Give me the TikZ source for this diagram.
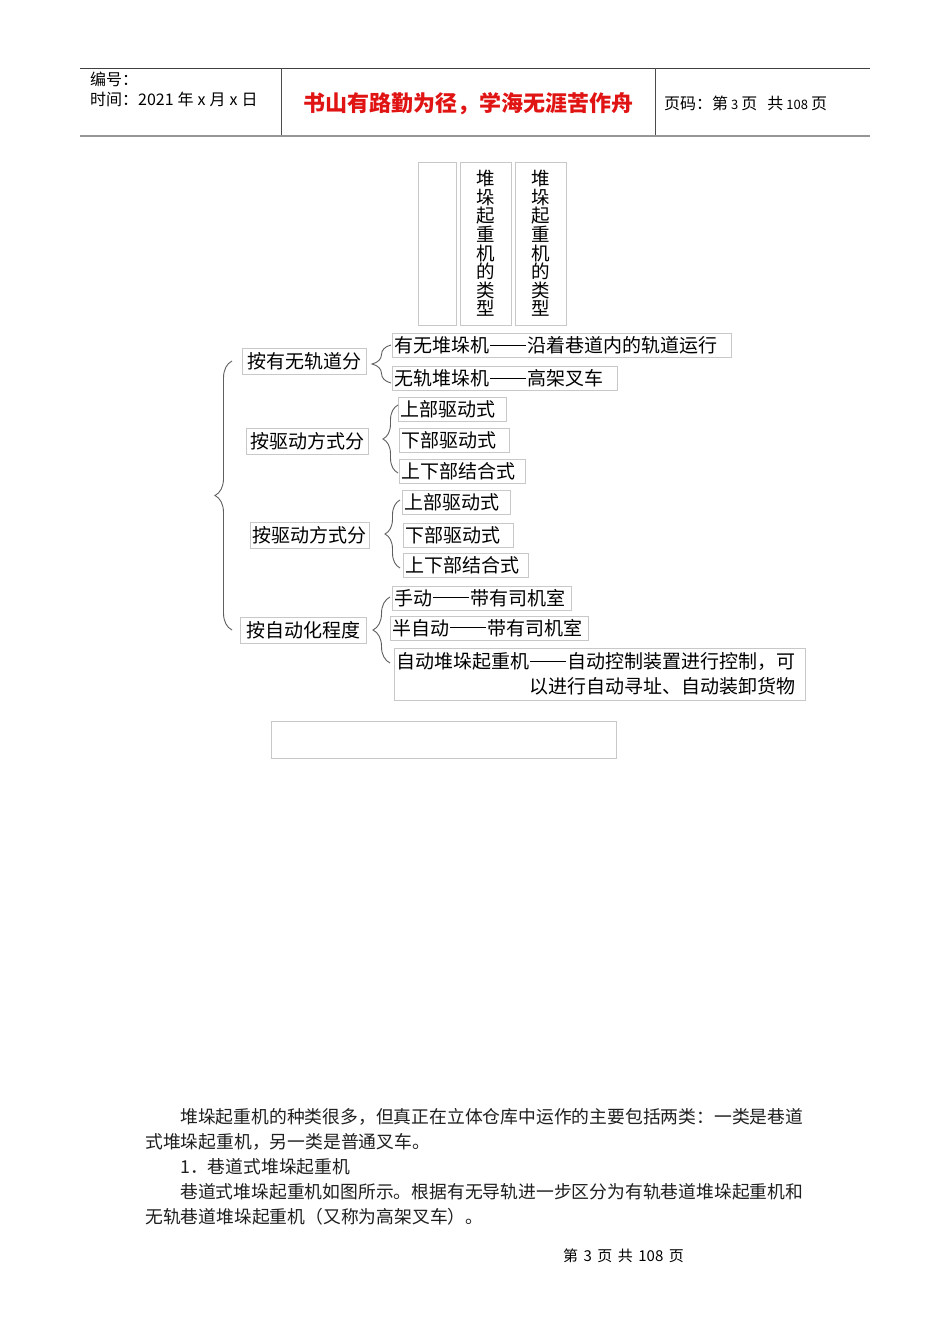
\documentclass[tikz,border=0pt]{standalone}
\usepackage{fontspec}
\setmainfont{Noto Sans CJK SC}
\usepackage{xcolor}
\usepackage{tikz}
\usetikzlibrary{positioning, decorations.pathreplacing}
\definecolor{boxgray}{RGB}{200,200,200}
\definecolor{bracegray}{RGB}{95,95,95}
\definecolor{titlered}{RGB}{225,20,20}
\definecolor{rulegray}{RGB}{150,150,150}
\newcommand{\setfs}[1]{\fontsize{#1}{#1}\selectfont}
\newcommand{\dashpair}{\hspace{0.05em}\rule[0.36em]{1.9em}{0.065em}\hspace{0.05em}}

\begin{document}
\begin{tikzpicture}[x=1pt, y=-1pt,
    catbox/.style={draw=boxgray, line width=0.8pt, inner xsep=2pt, inner ysep=0pt, minimum height=26pt, text width=#1, align=center, anchor=west, font=\setfs{19}},
    itembox/.style={draw=boxgray, line width=0.8pt, inner xsep=2pt, inner ysep=0pt, minimum height=24pt, text width=#1, align=left, anchor=west, font=\setfs{19}},
    vbox/.style={draw=boxgray, line width=0.8pt, inner sep=0pt, minimum width=#1, minimum height=163pt, align=center, font=\fontsize{18.5}{18.6}\selectfont},
    brc/.style={draw=bracegray, line width=0.9pt, decorate, decoration={brace, amplitude=#1}},
    bodyline/.style={anchor=west, inner sep=0pt, font=\setfs{17.8}, text=black!88}]
    % Page
    \fill[white] (0,0) rectangle (950,1344);
    \useasboundingbox (0,0) rectangle (950,1344);

    % Header
    \draw[black!75, line width=0.8pt] (80,68) -- (870,68);
    \draw[rulegray, line width=2pt] (80,135.5) -- (870,135.5);
    \draw[black!70, line width=0.8pt] (281,68) -- (281,135);
    \draw[black!70, line width=0.8pt] (655,68) -- (655,135);
    \node[anchor=west, inner sep=0pt, font=\setfs{16}] (serial) at (90,79) {编号：};
    \node[anchor=west, inner sep=0pt, font=\setfs{16}] (date) at (90,99)
        {时间：2021\hspace{4pt}年\hspace{4pt}x\hspace{4pt}月\hspace{4pt}x\hspace{4pt}日};
    \node[inner sep=0pt, font=\setfs{22}\bfseries, text=titlered] (motto) at (468.5,104) {书山有路勤为径，学海无涯苦作舟};
    \node[anchor=west, inner sep=0pt, font=\setfs{16}] (pageno) at (664,103)
        {页码：第\hspace{3pt}{\setfs{13}3}\hspace{3pt}页\hspace{10pt}共\hspace{3pt}{\setfs{13}108}\hspace{3pt}页};

    % Vertical title boxes
    \node[vbox=38pt] (blank) at (437,243.5) {};
    \node[vbox=51pt] (titleA) at (485.5,243.5) {堆\\垛\\起\\重\\机\\的\\类\\型};
    \node[vbox=51pt] (titleB) at (540.5,243.5) {堆\\垛\\起\\重\\机\\的\\类\\型};

    % First level
    \node[catbox=120pt] (rail) at (242,361) {按有无轨道分};
    \node[catbox=118pt] (driveA) at (246,441.5) {按驱动方式分};
    \node[catbox=115pt] (driveB) at (250,535) {按驱动方式分};
    \node[catbox=122pt] (auto) at (240,630.5) {按自动化程度};

    % Second level
    \node[itembox=335pt] (railed) at (392,345.5) {有无堆垛机\dashpair{}沿着巷道内的轨道运行};
    \node[itembox=221pt] (trackless) at (392,378.5) {无轨堆垛机\dashpair{}高架叉车};

    \node[itembox=104pt] (topA) at (398,409) {上部驱动式};
    \node[itembox=106pt] (bottomA) at (399,440) {下部驱动式};
    \node[itembox=122pt] (bothA) at (399,471.5) {上下部结合式};

    \node[itembox=104pt] (topB) at (402,502) {上部驱动式};
    \node[itembox=106pt] (bottomB) at (403,535) {下部驱动式};
    \node[itembox=121pt] (bothB) at (403,565.5) {上下部结合式};

    \node[itembox=175pt] (manual) at (392,598) {手动\dashpair{}带有司机室};
    \node[itembox=194pt] (semi) at (390,628) {半自动\dashpair{}带有司机室};
    \node[itembox=407pt, minimum height=52pt, font=\fontsize{19}{25}\selectfont] (full) at (394,674)
        {自动堆垛起重机\dashpair{}自动控制装置进行控制，可\\ \hspace*{\fill}以进行自动寻址、自动装卸货物\rule{8pt}{0pt}};

    % Empty box under the tree
    \node[draw=boxgray, line width=0.8pt, minimum width=345pt, minimum height=37pt] (empty) at (443.5,739.5) {};

    % Braces
    \coordinate (mainTop) at (232,361);
    \coordinate (mainBot) at (232,630);
    \coordinate (railTop) at (391,345);
    \coordinate (railBot) at (391,383);
    \coordinate (driveATop) at (398,405);
    \coordinate (driveABot) at (398,473);
    \coordinate (driveBTop) at (400,500);
    \coordinate (driveBBot) at (400,568);
    \coordinate (autoTop) at (390,597);
    \coordinate (autoBot) at (390,663);
    \draw[brc=17pt] (mainBot) -- (mainTop);
    \draw[brc=19pt] (railBot) -- (railTop);
    \draw[brc=15pt] (driveABot) -- (driveATop);
    \draw[brc=15pt] (driveBBot) -- (driveBTop);
    \draw[brc=17pt] (autoBot) -- (autoTop);

    % Body text
    \node[bodyline] (par1) at (180,1117) {堆垛起重机的种类很多，但真正在立体仓库中运作的主要包括两类：一类是巷道};
    \node[bodyline] (par2) at (145,1142) {式堆垛起重机，另一类是普通叉车。};
    \node[bodyline] (par3) at (180,1167) {1．巷道式堆垛起重机};
    \node[bodyline] (par4) at (180,1192) {巷道式堆垛起重机如图所示。根据有无导轨进一步区分为有轨巷道堆垛起重机和};
    \node[bodyline] (par5) at (145,1217) {无轨巷道堆垛起重机（又称为高架叉车）。};

    % Footer
    \node[inner sep=0pt, font=\setfs{15}] (footer) at (623.5,1256)
        {第\hspace{5.5pt}3\hspace{5.5pt}页\hspace{5.5pt}共\hspace{5.5pt}108\hspace{5.5pt}页};
\end{tikzpicture}
\end{document}
